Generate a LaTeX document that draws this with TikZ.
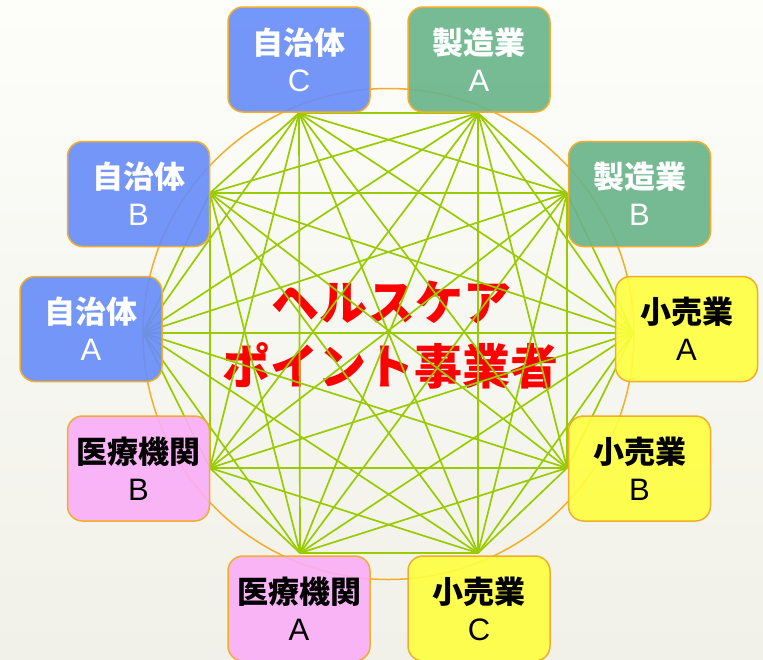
\documentclass[tikz,border=0pt]{standalone}
\usepackage{fontspec}
\newfontfamily\jp{Noto Sans CJK JP}
\newfontfamily\lat{Liberation Sans}
\definecolor{bgtop}{HTML}{FDFDFA}
\definecolor{bgbot}{HTML}{F1F1E9}
\definecolor{ring}{HTML}{F2AE2A}
\definecolor{web}{HTML}{99CC00}
\definecolor{cblue}{HTML}{668CFA}
\definecolor{cgreen}{HTML}{68B48A}
\definecolor{cyellow}{HTML}{FFFF40}
\definecolor{cpink}{HTML}{FAAEF8}
\definecolor{ttl}{HTML}{FF0000}
\begin{document}
\begin{tikzpicture}[x=1pt,y=-1pt,
  box/.style={draw=ring, line width=1.5pt, rounded corners=15pt, minimum width=142pt, minimum height=105pt, fill opacity=0.9, inner sep=0pt},
  head/.style={font=\jp\bfseries\fontsize{31}{31}\selectfont, inner sep=0pt},
  tail/.style={font=\lat\fontsize{31}{31}\selectfont, inner sep=0pt},
  wt/.style={text=white},
  bk/.style={text=black},
  link/.style={draw=web, line width=1.7pt},
  title/.style={font=\jp\bfseries\fontsize{48}{48}\selectfont, text=ttl, inner sep=0pt}]
\useasboundingbox (0,0) rectangle (763,659);
\shade[top color=bgtop, bottom color=bgbot] (0,0) rectangle (763,659);
\node[draw=ring, line width=1.5pt, circle, minimum size=491pt, inner sep=0pt] (ring) at (388.5,334) {};
\node[title] (t1) at (391,302) {ヘルスケア};
\node[title] (t2) at (390,366) {ポイント事業者};
\coordinate (p1) at (299,113);
\coordinate (p2) at (478,113);
\coordinate (p3) at (567,193);
\coordinate (p4) at (633,333);
\coordinate (p5) at (567,468);
\coordinate (p6) at (478,553);
\coordinate (p7) at (300,553);
\coordinate (p8) at (210,468);
\coordinate (p9) at (143,333);
\coordinate (p10) at (210,193);
\foreach \i in {1,...,9}{
  \pgfmathtruncatemacro{\s}{\i+1}
  \foreach \j in {\s,...,10}{
    \draw[link] (p\i) -- (p\j);
  }
}
\node[box, fill=cblue] (jc) at (299,59.5) {};
\node[box, fill=cgreen] (ma) at (479,59.5) {};
\node[box, fill=cblue] (jb) at (138.5,194) {};
\node[box, fill=cgreen] (mb) at (639.5,194) {};
\node[box, fill=cblue] (ja) at (91,329) {};
\node[box, fill=cyellow] (ra) at (686.5,329) {};
\node[box, fill=cpink] (ib) at (138.5,468.5) {};
\node[box, fill=cyellow] (rb) at (639.5,468.5) {};
\node[box, fill=cpink] (ia) at (299,608.5) {};
\node[box, fill=cyellow] (rc) at (479,608.5) {};
\foreach \n/\a/\b/\c in {jc/自治体/C/wt, ma/製造業/A/wt, jb/自治体/B/wt, mb/製造業/B/wt, ja/自治体/A/wt, ra/小売業/A/bk, ib/医療機関/B/bk, rb/小売業/B/bk, ia/医療機関/A/bk, rc/小売業/C/bk}{
  \node[head, \c] (\n h) at ([yshift=17pt]\n.center) {\a};
  \node[tail, \c] (\n l) at ([yshift=-21pt]\n.center) {\b};
}
\end{tikzpicture}
\end{document}
